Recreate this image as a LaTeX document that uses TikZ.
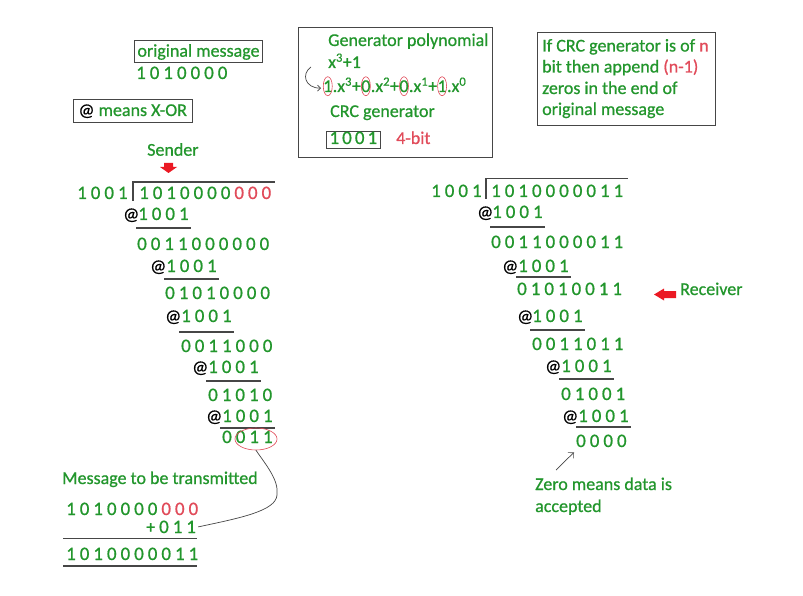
\documentclass[tikz,border=0pt]{standalone}
\usepackage{fontspec}
\setmainfont{Carlito}[FakeBold=0.7]
\usetikzlibrary{arrows.meta,shapes.geometric}
\definecolor{cg}{RGB}{34,150,44}
\definecolor{cr}{RGB}{225,75,90}
\definecolor{cline}{RGB}{70,70,70}
\definecolor{car}{RGB}{235,25,35}
\newlength\dpitch
\setlength\dpitch{13.6pt}
\def\dgsloop#1{\ifx#1\relax\else\makebox[\dpitch]{#1}\expandafter\dgsloop\fi}
\newcommand\dgs[1]{{\fontsize{19}{22}\selectfont\dgsloop#1\relax}}
\newcommand\rdgs[1]{\textcolor{cr}{\dgs{#1}}}
\begin{document}
\begin{tikzpicture}[x=1pt,y=-1pt,font=\fontsize{18}{21.6}\selectfont]
\tikzset{
  t/.style={inner sep=0pt, anchor=base west, text=cg},
  atsign/.style={inner sep=0pt, anchor=base west, text=black},
  rl/.style={draw=cline, line width=1.3pt},
  bx/.style={draw=cline, line width=0.9pt},
  ell/.style={draw=cr, line width=0.6pt},
  thin/.style={draw=cline, line width=0.7pt},
  redarrow/.style={fill=car, draw=none}
}
\useasboundingbox (0,0) rectangle (803,596);
\fill[white] (0,0) rectangle (803,596);

% ---------- top-left
\node[t, draw=cline, line width=0.9pt, inner xsep=3pt, inner ysep=2.5pt, text height=14pt, text depth=3.5pt] (om) at (134,56.7) {original message};
\node[t] (omd) at (134,79) {\dgs{1010000}};
\node[t, draw=cline, line width=0.9pt, inner xsep=5pt, inner ysep=3pt, text height=14pt, text depth=3.5pt] (xor) at (73,116) {\textcolor{black}{@} means X-OR};

% ---------- generator box
\draw[bx] (298,27) rectangle (492,157);
\node[t] (gp) at (328,46) {Generator polynomial};
\node[t] (gx) at (328,68) {x\textsuperscript{3}+1};
\node[t] (p1) at (323,92) {1};
\node[t] (p2) at (p1.base east) {.x\textsuperscript{3}+};
\node[t] (p3) at (p2.base east) {0};
\node[t] (p4) at (p3.base east) {.x\textsuperscript{2}+};
\node[t] (p5) at (p4.base east) {0};
\node[t] (p6) at (p5.base east) {.x\textsuperscript{1}+};
\node[t] (p7) at (p6.base east) {1};
\node[t] (p8) at (p7.base east) {.x\textsuperscript{0}};
\foreach \p in {p1,p3,p5,p7}{\draw[ell] (\p.center) ellipse[x radius=4.5pt, y radius=9.5pt];}
\coordinate (ga) at (311,67);
\draw[thin, -{Straight Barb[length=3pt]}] (ga) .. controls (301,74) and (305,88) .. ([xshift=-2pt,yshift=-2pt]p1.west);
\node[t] (crc) at (330,117) {CRC generator};
\begingroup\setlength\dpitch{12.7pt}
\node[t, draw=cline, line width=0.9pt, inner xsep=1.5pt, inner ysep=1.6pt, text height=11.4pt, text depth=2.4pt] (g1001) at (326,144) {\dgs{1001}};
\endgroup
\node[t, text=cr] (fb) at (396,144) {4-bit};

% ---------- right box
\draw[bx] (537,32) rectangle (715,125);
\node[t] (rb1) at (542,51.5) {If CRC generator is of \textcolor{cr}{n}};
\node[t] (rb2) at (542,72.5) {bit then append \textcolor{cr}{(n-1)}};
\node[t] (rb3) at (542,94) {zeros in the end of};
\node[t] (rb4) at (542,115) {original message};

% ---------- sender
\node[t] (snd) at (147,155.7) {Sender};
\fill[redarrow] (164,163) -- (173,163) -- (173,167) -- (177,167) -- (168.5,173) -- (160,167) -- (164,167) -- cycle;
\node[t] (sdv) at (75,199) {\dgs{1001}};
\draw[rl] (133,201) -- (133,182) -- (275,182);
\node[t] (s0) at (137,199) {\dgs{1010000}\rdgs{000}};
\node[atsign] (sa1) at (123,220) {@};
\node[t] (s1) at (136,220) {\dgs{1001}};
\draw[rl] ([yshift=-8pt]s1.base west) -- ([yshift=-8pt]s1.base east);
\node[t] (s2) at (135,250) {\dgs{0011000000}};
\node[atsign] (sa2) at (150,272) {@};
\node[t] (s3) at (164,272) {\dgs{1001}};
\draw[rl] ([yshift=-7pt]s3.base west) -- ([yshift=-7pt]s3.base east);
\node[t] (s4) at (163,299) {\dgs{01010000}};
\node[atsign] (sa3) at (165,322) {@};
\node[t] (s5) at (179,322) {\dgs{1001}};
\draw[rl] ([yshift=-10pt]s5.base west) -- ([yshift=-10pt]s5.base east);
\node[t] (s6) at (179,352) {\dgs{0011000}};
\node[atsign] (sa4) at (192,373) {@};
\node[t] (s7) at (206,373) {\dgs{1001}};
\draw[rl] ([yshift=-8pt]s7.base west) -- ([yshift=-8pt]s7.base east);
\node[t] (s8) at (206,401) {\dgs{01010}};
\node[atsign] (sa5) at (206,422) {@};
\node[t] (s9) at (220,422) {\dgs{1001}};
\draw[rl] ([yshift=-6pt]s9.base west) -- ([yshift=-6pt]s9.base east);
\node[t] (s10) at (220,443) {\dgs{0011}};
\node[ellipse, draw=cr, line width=0.6pt, inner sep=0pt, minimum width=42pt, minimum height=22pt] (e1) at (256,439) {};

% ---------- message to be transmitted
\node[t] (mtt) at (62,484) {Message to be transmitted};
\node[t] (m1) at (64,515) {\dgs{1010000}\rdgs{000}};
\node[t] (plus) at (146,533) {+\hspace{2pt}\dgs{011}};
\draw[rl] (63,538.5) -- (197,538.5);
\node[t] (m2) at (64,560) {\dgs{1010000011}};
\draw[rl] (63,566) -- (197,566);
\coordinate (cv) at (277,495);
\draw[thin] (e1.south) .. controls (266,465) and (279,480) .. (cv) .. controls (276,511) and (240,518) .. (plus.east);

% ---------- receiver
\node[t] (rdv) at (429,197) {\dgs{1001}};
\draw[rl] (486,199) -- (486,178.5) -- (628,178.5);
\node[t] (r0) at (489,197) {\dgs{1010000011}};
\node[atsign] (ra1) at (477,218) {@};
\node[t] (r1) at (490,218) {\dgs{1001}};
\draw[rl] ([yshift=-9pt]r1.base west) -- ([yshift=-9pt]r1.base east);
\node[t] (r2) at (489,248) {\dgs{0011000011}};
\node[atsign] (ra2) at (502,272) {@};
\node[t] (r3) at (516,272) {\dgs{1001}};
\draw[rl] ([yshift=-5pt]r3.base west) -- ([yshift=-5pt]r3.base east);
\node[t] (r4) at (515,295) {\dgs{01010011}};
\node[atsign] (ra3) at (517,322) {@};
\node[t] (r5) at (530,322) {\dgs{1001}};
\draw[rl] ([yshift=-8pt]r5.base west) -- ([yshift=-8pt]r5.base east);
\node[t] (r6) at (530,350) {\dgs{0011011}};
\node[atsign] (ra4) at (545,372) {@};
\node[t] (r7) at (559,372) {\dgs{1001}};
\draw[rl] ([yshift=-7pt]r7.base west) -- ([yshift=-7pt]r7.base east);
\node[t] (r8) at (559,400) {\dgs{01001}};
\node[atsign] (ra5) at (562,422) {@};
\node[t] (r9) at (576,422) {\dgs{1001}};
\draw[rl] ([yshift=-5pt]r9.base west) -- ([yshift=-5pt]r9.base east);
\node[t] (r10) at (574,447) {\dgs{0000}};

\node[t] (rcv) at (680,295) {Receiver};
\fill[redarrow] (654,294.5) -- (664,288.5) -- (664,291) -- (676,291) -- (676,298) -- (664,298) -- (664,300.5) -- cycle;

\coordinate (za) at (556,470);
\draw[thin, -{Straight Barb[length=4pt]}] (za) -- ([yshift=-5pt]r10.south west);
\node[t] (z1) at (535,490) {Zero means data is};
\node[t] (z2) at (535,512) {accepted};
\end{tikzpicture}
\end{document}
